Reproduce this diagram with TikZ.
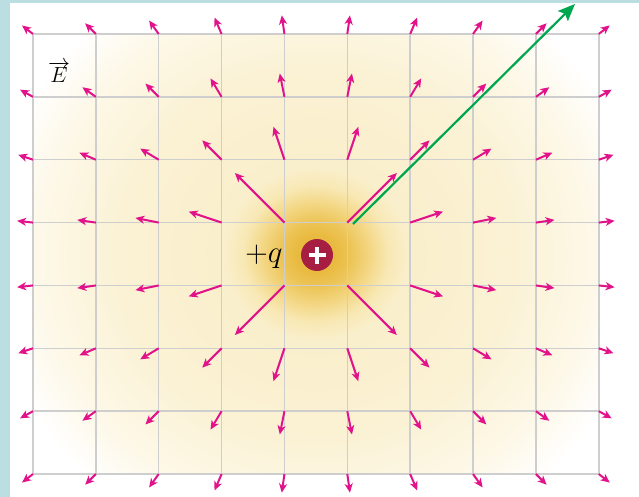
\documentclass[tikz,border=0pt]{standalone}
\usetikzlibrary{arrows.meta}
\definecolor{bluebg}{RGB}{186,222,226}
\definecolor{gridc}{RGB}{206,206,206}
\definecolor{field}{RGB}{226,18,138}
\definecolor{greenv}{RGB}{0,166,80}
\definecolor{chargec}{RGB}{166,30,66}
\definecolor{g0}{RGB}{233,186,64}
\definecolor{g1}{RGB}{236,196,86}
\definecolor{g2}{RGB}{243,214,130}
\definecolor{g3}{RGB}{248,232,180}
\definecolor{g4}{RGB}{250,239,204}
\definecolor{g5}{RGB}{251,242,213}
\definecolor{g6}{RGB}{253,248,232}
\pgfdeclareradialshading{glow}{\pgfpoint{0bp}{0bp}}{color(0bp)=(g0); color(1.5bp)=(g0); color(2.6bp)=(g1); color(4bp)=(g2); color(5.5bp)=(g3); color(7bp)=(g4); color(15bp)=(g5); color(21bp)=(g6); color(25bp)=(white); color(50bp)=(white)}
\begin{document}
\begin{tikzpicture}[x=1pt,y=-1pt,
  gridline/.style={draw=gridc, line width=1.5pt},
  fieldvec/.style={draw=field, line width=2pt, -{Stealth[length=9pt,width=8pt,inset=2.5pt]}},
  greenvec/.style={draw=greenv, line width=2.2pt, -{Stealth[length=17pt,width=14pt,inset=3pt]}},
  plusbar/.style={draw=white, line width=4pt},
  chargenode/.style={circle, fill=chargec, minimum size=32pt, inner sep=0pt}]
\useasboundingbox (0,0) rectangle (639,497);
\fill[bluebg] (0,0) rectangle (639,497);
\fill[white] (10,3) rectangle (639,497);
\begin{scope}
  \clip (33,34) rectangle (599,474);
  \shade[shading=glow] (316,254) ellipse [x radius=330pt, y radius=310pt];
\end{scope}
\foreach \i in {0,...,9} \draw[gridline] ({33+62.86*\i},34) -- ({33+62.86*\i},474);
\foreach \j in {0,...,7} \draw[gridline] (33,{34+62.86*\j}) -- (599,{34+62.86*\j});
\foreach \i in {0,...,9}{
  \foreach \j in {0,...,7}{
    \pgfmathsetmacro\dx{\i-4.5}
    \pgfmathsetmacro\dy{\j-3.5}
    \pgfmathsetmacro\r{sqrt(\dx*\dx+\dy*\dy)}
    \pgfmathsetmacro\k{(6+45.3/\r)/\r}
    \pgfmathsetmacro\xa{33+62.86*\i}
    \pgfmathsetmacro\ya{34+62.86*\j}
    \coordinate (p\i-\j) at (\xa,\ya);
    \coordinate (t\i-\j) at ({\xa+\k*\dx},{\ya+\k*\dy});
    \draw[fieldvec] (p\i-\j) -- (t\i-\j);
  }
}
\coordinate (gs) at (353,224);
\coordinate (ge) at (575,4);
\draw[greenvec] (gs) -- (ge);
\node[chargenode] (q) at (317,255) {};
\draw[plusbar] ([xshift=-8.5pt]q.center) -- ([xshift=8.5pt]q.center);
\draw[plusbar] ([yshift=-8.5pt]q.center) -- ([yshift=8.5pt]q.center);
\node[font=\huge, anchor=base, inner sep=0pt] (qlabel) at (264,262) {\scalebox{1.5}{$+q$}};
\node[font=\huge, anchor=base, inner sep=0pt] (Elabel) at (59,83) {\scalebox{1.06}{$\overrightarrow{E}$}};
\end{tikzpicture}
\end{document}
